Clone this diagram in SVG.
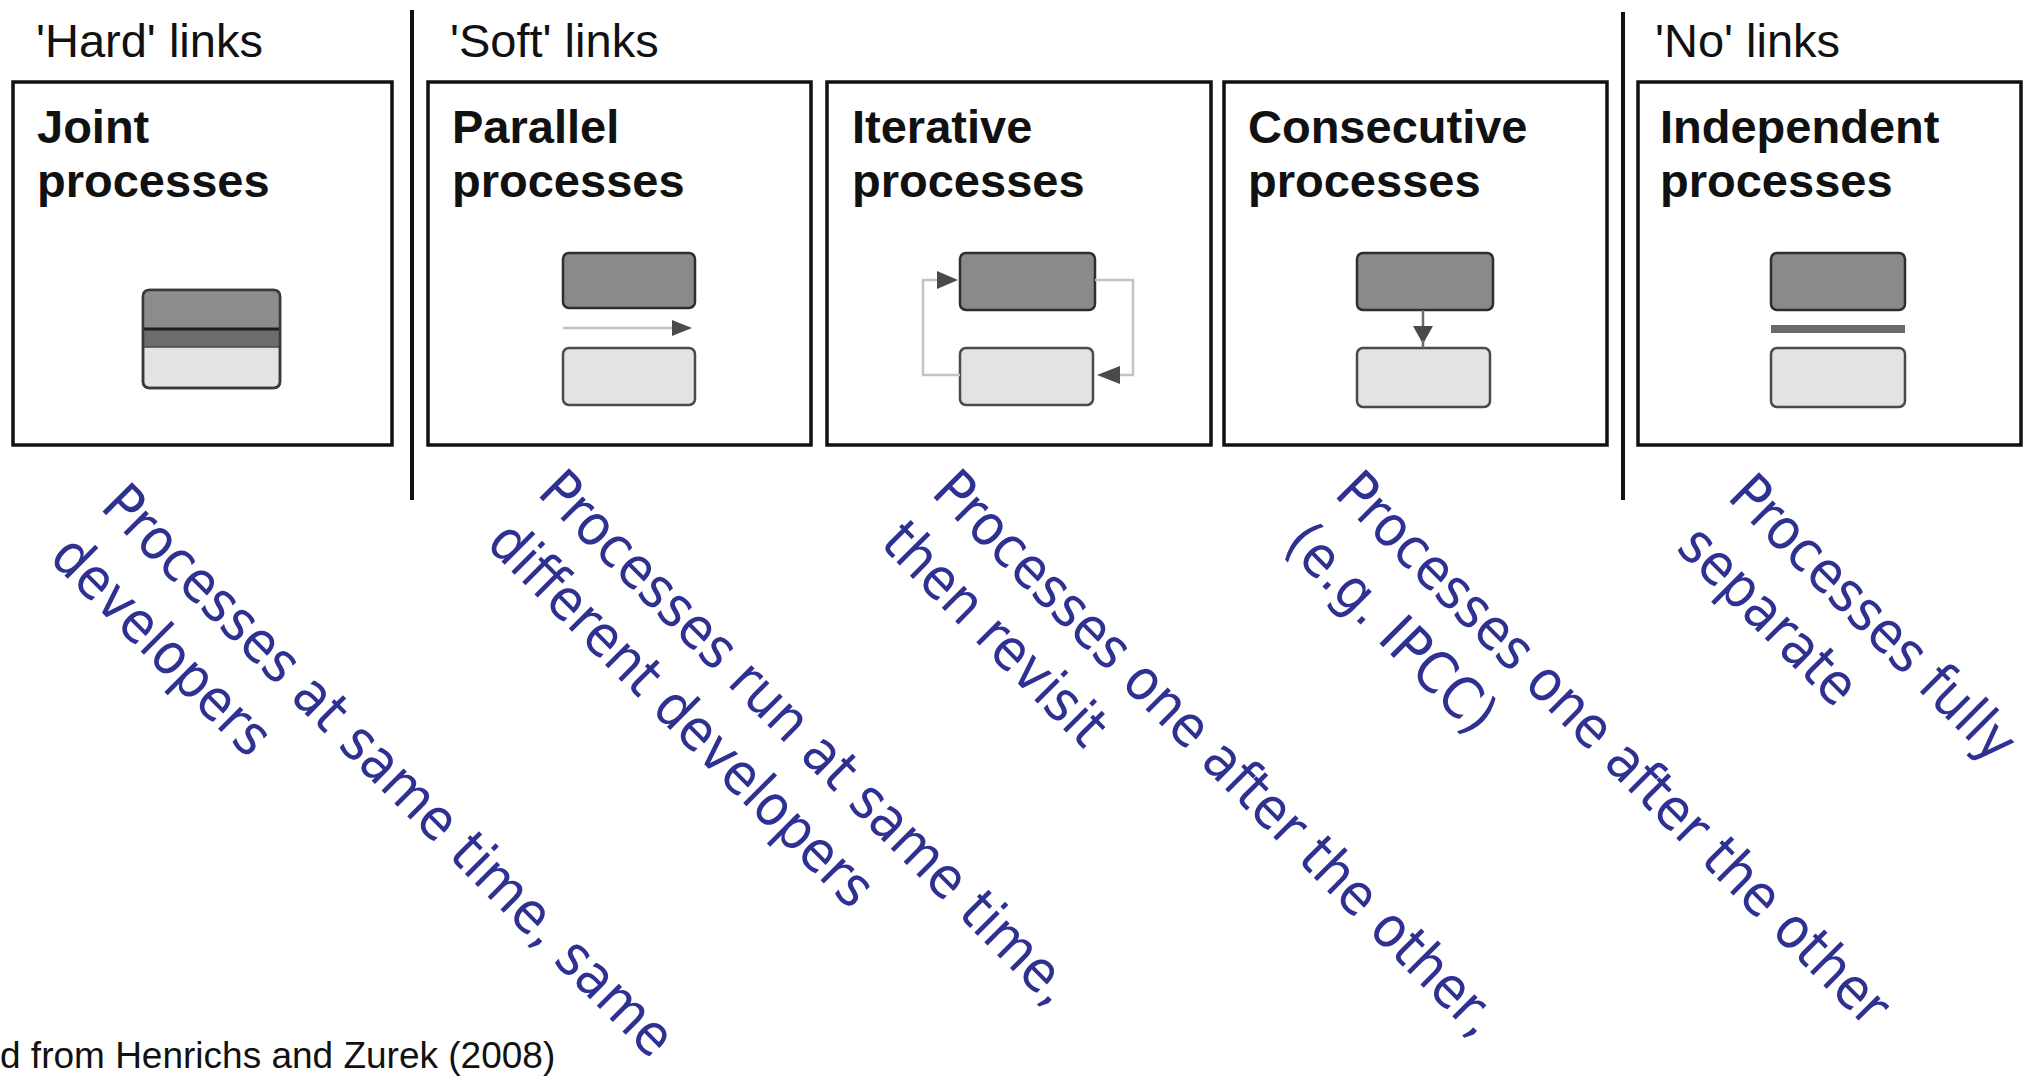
<svg xmlns="http://www.w3.org/2000/svg" width="2032" height="1080" viewBox="0 0 2032 1080">
  <style>
    .frame { fill: #ffffff; stroke: #111111; stroke-width: 3.5; }
    .group-label { font-family: "Liberation Sans", Arial, sans-serif; font-size: 47px; fill: #111111; }
    .title { font-family: "Liberation Sans", Arial, sans-serif; font-size: 47px; font-weight: bold; fill: #111111; }
    .divider { stroke: #111111; stroke-width: 4; }
    .proc-dark { fill: #8a8a8a; stroke: #2e2e2e; stroke-width: 2.5; }
    .proc-light { fill: #e3e3e3; stroke: #4a4a4a; stroke-width: 2.5; }
    .flow { fill: none; stroke: #c4c4c4; stroke-width: 2.5; }
    .head { fill: #4a4a4a; }
    .note { font-family: "DejaVu Sans Condensed", "DejaVu Sans", sans-serif; font-stretch: condensed; font-size: 57px; fill: #2e3192; }
    .credit { font-family: "Liberation Sans", Arial, sans-serif; font-size: 37px; fill: #111111; }
  </style>

  <rect width="2032" height="1080" fill="#ffffff"/>

  <!-- group headings and separators -->
  <g id="headings">
    <text class="group-label" x="36" y="57">'Hard' links</text>
    <text class="group-label" x="450" y="57">'Soft' links</text>
    <text class="group-label" x="1655" y="57">'No' links</text>
    <line class="divider" x1="412" y1="10" x2="412" y2="500"/>
    <line class="divider" x1="1623" y1="12" x2="1623" y2="500"/>
  </g>

  <!-- Joint processes -->
  <g id="joint">
    <rect class="frame" x="13" y="82" width="379" height="363"/>
    <text class="title" x="37" y="143">Joint</text>
    <text class="title" x="37" y="197">processes</text>
    <rect class="proc-light" x="143" y="290" width="137" height="98" rx="6"/>
    <path d="M143 347 V296 Q143 290 149 290 H274 Q280 290 280 296 V347 Z" fill="#8c8c8c"/>
    <rect x="144" y="329" width="135" height="18" fill="#6c6c6c"/>
    <line x1="143" y1="329" x2="280" y2="329" stroke="#1e1e1e" stroke-width="3"/>
    <line x1="143" y1="347" x2="280" y2="347" stroke="#4a4a4a" stroke-width="1.5"/>
    <rect x="143" y="290" width="137" height="98" rx="6" fill="none" stroke="#3a3a3a" stroke-width="2.5"/>
  </g>

  <!-- Parallel processes -->
  <g id="parallel">
    <rect class="frame" x="428" y="82" width="383" height="363"/>
    <text class="title" x="452" y="143">Parallel</text>
    <text class="title" x="452" y="197">processes</text>
    <rect class="proc-dark" x="563" y="253" width="132" height="55" rx="6"/>
    <rect class="proc-light" x="563" y="348" width="132" height="57" rx="6"/>
  </g>

  <!-- Iterative processes -->
  <g id="iterative">
    <rect class="frame" x="827" y="82" width="384" height="363"/>
    <text class="title" x="852" y="143">Iterative</text>
    <text class="title" x="852" y="197">processes</text>
    <rect class="proc-dark" x="960" y="253" width="135" height="57" rx="6"/>
    <rect class="proc-light" x="960" y="348" width="133" height="57" rx="6"/>
  </g>

  <!-- Consecutive processes -->
  <g id="consecutive">
    <rect class="frame" x="1224" y="82" width="383" height="363"/>
    <text class="title" x="1248" y="143">Consecutive</text>
    <text class="title" x="1248" y="197">processes</text>
    <rect class="proc-dark" x="1357" y="253" width="136" height="57" rx="6"/>
    <rect class="proc-light" x="1357" y="348" width="133" height="59" rx="6"/>
  </g>

  <!-- Independent processes -->
  <g id="independent">
    <rect class="frame" x="1638" y="82" width="383" height="363"/>
    <text class="title" x="1660" y="143">Independent</text>
    <text class="title" x="1660" y="197">processes</text>
    <rect class="proc-dark" x="1771" y="253" width="134" height="57" rx="6"/>
    <rect x="1771" y="325" width="134" height="8" fill="#6a6a6a"/>
    <rect class="proc-light" x="1771" y="348" width="134" height="59" rx="6"/>
  </g>

  <!-- links between the process blocks -->
  <g id="connectors">
    <line class="flow" x1="563" y1="328" x2="676" y2="328"/>
    <polygon class="head" points="672,320 692,328 672,336"/>
    <path class="flow" d="M960 375 H923 V280 H940"/>
    <polygon class="head" points="937,271 958,280 937,289"/>
    <path class="flow" d="M1095 280 H1133 V375 H1118"/>
    <polygon class="head" points="1120,366 1097,375 1120,384"/>
    <line x1="1423" y1="310" x2="1423" y2="330" stroke="#6a6a6a" stroke-width="2.5"/>
    <polygon class="head" points="1413,326 1433,326 1423,344"/>
    <line x1="1423" y1="340" x2="1423" y2="348" stroke="#6a6a6a" stroke-width="2.5"/>
  </g>

  <!-- slanted explanations -->
  <g id="notes">
    <text class="note" transform="translate(99,508) rotate(45)"><tspan x="0" y="0">Processes at same time, same</tspan><tspan x="0" y="72">developers</tspan></text>
    <text class="note" transform="translate(536,494) rotate(45)"><tspan x="0" y="0">Processes run at same time,</tspan><tspan x="0" y="72">different developers</tspan></text>
    <text class="note" transform="translate(930,494) rotate(45)"><tspan x="0" y="0">Processes one after the other,</tspan><tspan x="0" y="72">then revisit</tspan></text>
    <text class="note" transform="translate(1333,495) rotate(45)"><tspan x="0" y="0">Processes one after the other</tspan><tspan x="0" y="72">(e.g. IPCC)</tspan></text>
    <text class="note" transform="translate(1726,498) rotate(45)"><tspan x="0" y="0">Processes fully</tspan><tspan x="0" y="72">separate</tspan></text>
  </g>

  <text class="credit" x="0" y="1068">d from Henrichs and Zurek (2008)</text>
</svg>
